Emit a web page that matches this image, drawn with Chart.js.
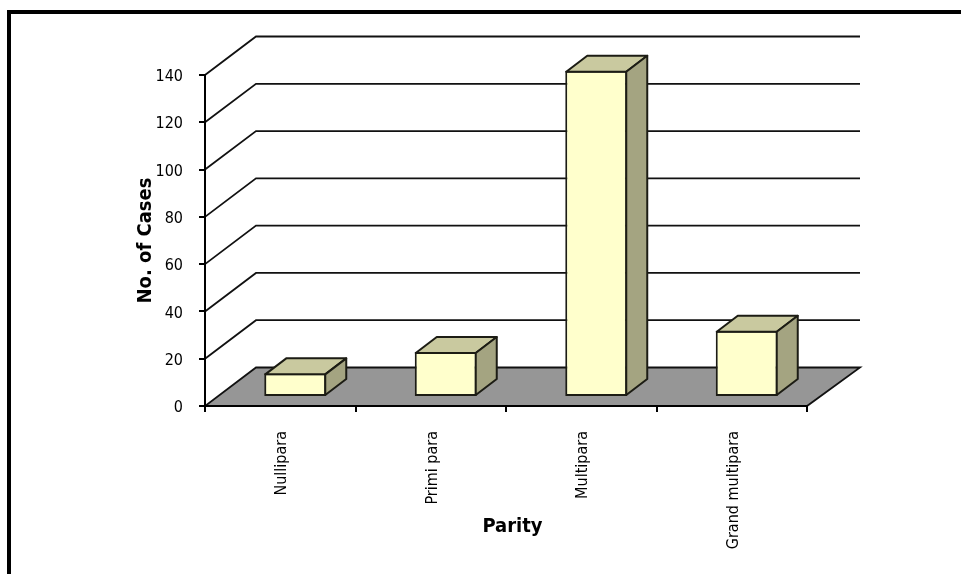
<!DOCTYPE html>
<html lang="en">
<head>
<meta charset="UTF-8">
<title>Cases by Parity</title>
<script src="https://cdn.jsdelivr.net/npm/chart.js"></script>
<style>
  html, body { margin: 0; padding: 0; background: #fff; overflow: hidden; }
  #frame {
    position: absolute; left: 7px; top: 10px; width: 1000px; height: 600px;
    border: 4px solid #000; box-sizing: content-box;
  }
  #chart { position: absolute; left: 0; top: 0; }
</style>
</head>
<body>
<div id="frame"></div>
<canvas id="chart" width="961" height="574"></canvas>
<script>
const categories = ['Nullipara', 'Primi para', 'Multipara', 'Grand multipara'];
const cases = [10, 19, 138, 28];
const yMax = 140;
const yStep = 20;

const FONT = '"DejaVu Sans Condensed", "DejaVu Sans"';

// depth of the floor / back wall, and of the boxes
const wallDx = 51, wallDy = -38.5;
const wallEnd = 860;
const barShiftX = 15, barShiftY = -9;
const boxDx = 21, boxDy = -16;

const wall3d = {
  id: 'wall3d',
  beforeDraw(chart) {
    const { ctx, chartArea, scales: { y } } = chart;
    const x0 = chartArea.left, x1 = chartArea.right;
    const y0 = y.getPixelForValue(0);
    ctx.save();
    ctx.strokeStyle = '#111';
    ctx.lineWidth = 1.8;

    // floor
    ctx.fillStyle = '#969696';
    ctx.beginPath();
    ctx.moveTo(x0, y0);
    ctx.lineTo(x1, y0);
    ctx.lineTo(wallEnd, y0 + wallDy);
    ctx.lineTo(x0 + wallDx, y0 + wallDy);
    ctx.closePath();
    ctx.fill();
    ctx.stroke();

    // gridlines run back from the axis, then across the wall
    for (let v = yStep; v <= yMax; v += yStep) {
      const py = y.getPixelForValue(v);
      ctx.beginPath();
      ctx.moveTo(x0, py);
      ctx.lineTo(x0 + wallDx, py + wallDy);
      ctx.lineTo(wallEnd, py + wallDy);
      ctx.stroke();
    }

    // x axis line
    ctx.strokeStyle = '#000';
    ctx.lineWidth = 2;
    ctx.beginPath();
    ctx.moveTo(x0 - 1, Math.round(y0));
    ctx.lineTo(x1 + 1, Math.round(y0));
    ctx.stroke();
    ctx.restore();
  },
  afterLayout(chart) {
    // nudges the x title right of the axis centre
    chart.scales.x.right += 13;
  },
  beforeDatasetsDraw(chart) {
    chart.ctx.save();
    chart.ctx.translate(barShiftX, barShiftY);
  },
  afterDatasetsDraw(chart) {
    const ctx = chart.ctx;
    chart.getDatasetMeta(0).data.forEach(bar => {
      const { x, y, base, width } = bar.getProps(['x', 'y', 'base', 'width'], true);
      // the bar's border sits inside its box, so the faces start on the stroke centre
      const l = x - width / 2 + 1, r = x + width / 2 - 1;
      const t = y + 1, b = base - 1;
      ctx.strokeStyle = '#1c1c14';
      ctx.lineWidth = 2;
      ctx.lineJoin = 'round';
      // top face
      ctx.fillStyle = '#c9c99f';
      ctx.beginPath();
      ctx.moveTo(l, t);
      ctx.lineTo(l + boxDx, t + boxDy);
      ctx.lineTo(r + boxDx, t + boxDy);
      ctx.lineTo(r, t);
      ctx.closePath();
      ctx.fill();
      ctx.stroke();
      // side face
      ctx.fillStyle = '#a4a481';
      ctx.beginPath();
      ctx.moveTo(r, t);
      ctx.lineTo(r + boxDx, t + boxDy);
      ctx.lineTo(r + boxDx, b + boxDy);
      ctx.lineTo(r, b);
      ctx.closePath();
      ctx.fill();
      ctx.stroke();
    });
    ctx.restore();
  }
};

new Chart(document.getElementById('chart'), {
  type: 'bar',
  data: {
    labels: categories,
    datasets: [{
      label: 'No. of Cases',
      data: cases,
      backgroundColor: '#ffffcc',
      borderColor: '#1c1c14',
      borderWidth: 2,
      borderSkipped: false,
      barPercentage: 0.824,
      categoryPercentage: 0.5,
      clip: false
    }]
  },
  options: {
    responsive: false,
    animation: false,
    layout: { padding: { left: 134, top: 75, right: 154, bottom: 0 } },
    plugins: { legend: { display: false }, tooltip: { enabled: false } },
    scales: {
      x: {
        afterFit(scale) { scale.height = 168; },
        grid: { drawOnChartArea: false, color: '#000', lineWidth: 2, tickLength: 6, offset: true },
        border: { display: false },
        ticks: {
          color: '#000', autoSkip: false, maxRotation: 90, minRotation: 90, padding: 19, labelOffset: 2,
          font: { family: FONT, size: 16 }
        },
        title: {
          display: true, text: 'Parity', color: '#000',
          font: { family: FONT, size: 20, weight: 'bold' },
          padding: { top: 0, bottom: 35 }
        }
      },
      y: {
        min: 0, max: yMax,
        afterFit(scale) { scale.width = 71; },
        grid: { drawOnChartArea: false, color: '#000', lineWidth: 2, tickLength: 6 },
        border: { color: '#000', width: 2 },
        ticks: { stepSize: yStep, color: '#000', padding: 16, labelOffset: 2, font: { family: FONT, size: 16 } },
        title: {
          display: true, text: 'No. of Cases', color: '#000',
          font: { family: FONT, size: 20, weight: 'bold' },
          padding: { top: 0, bottom: 0 }
        }
      }
    }
  },
  plugins: [wall3d]
});
</script>
</body>
</html>
